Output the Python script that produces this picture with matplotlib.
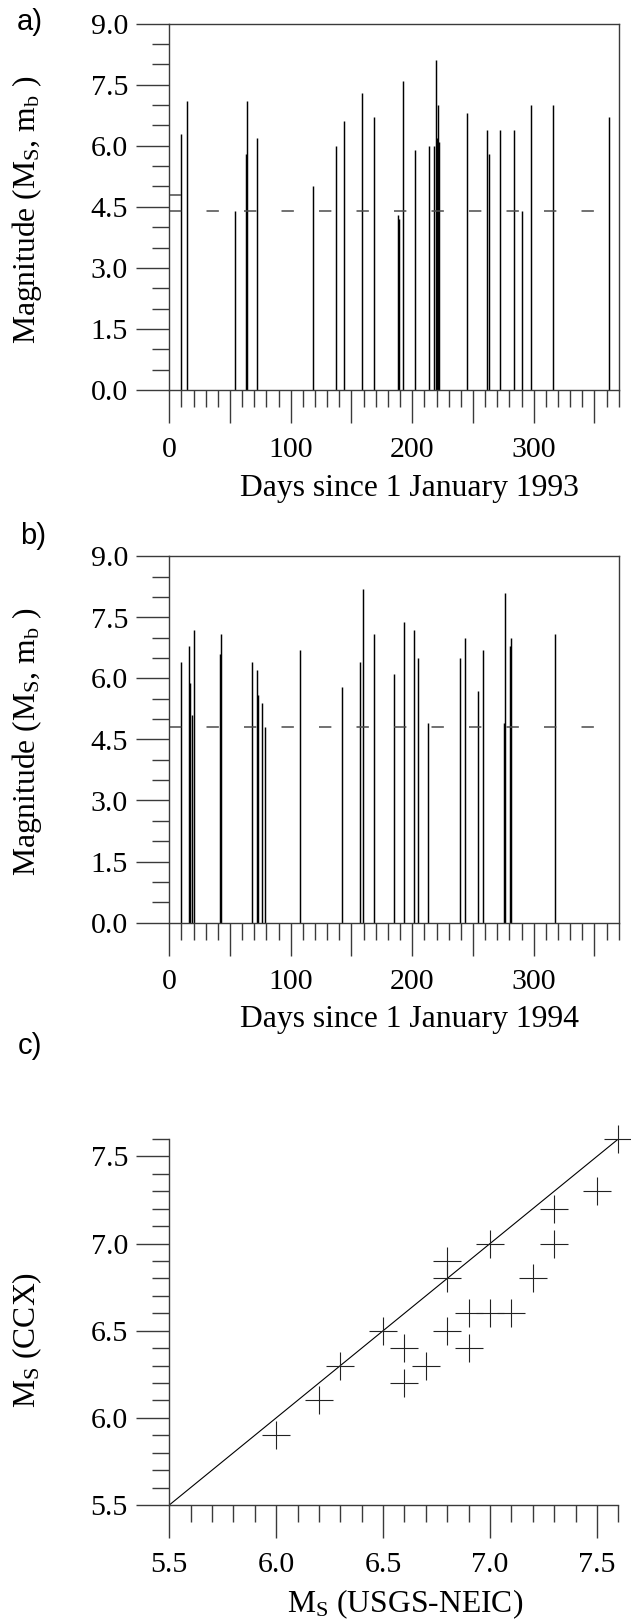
import matplotlib
matplotlib.use("Agg")
import matplotlib.pyplot as plt
from matplotlib.ticker import MultipleLocator, FuncFormatter, FormatStrFormatter

plt.rcParams['font.family'] = ['Liberation Serif', 'DejaVu Serif']
plt.rcParams['mathtext.fontset'] = 'custom'
plt.rcParams['mathtext.rm'] = 'Liberation Serif'
plt.rcParams['mathtext.it'] = 'Liberation Serif:italic'
plt.rcParams['mathtext.bf'] = 'Liberation Serif:bold'
plt.rcParams['lines.scale_dashes'] = False

# ---------------- data ----------------
days_1993 = [9.6, 14.3, 54.1, 63.1, 64.0, 72.5, 118.0, 137.0, 143.8, 158.7,
             168.3, 188.0, 189.0, 192.4, 202.3, 214.1, 218.2, 219.3, 220.1, 221.0,
             222.3, 245.4, 261.3, 263.0, 272.5, 283.5, 290.6, 297.5, 315.6, 362.3]
mag_1993 = [6.3, 7.1, 4.4, 5.8, 7.1, 6.2, 5.0, 6.0, 6.6, 7.3,
            6.7, 4.3, 4.2, 7.6, 5.9, 6.0, 6.0, 8.1, 6.2, 7.0,
            6.1, 6.8, 6.4, 5.8, 6.4, 6.4, 4.4, 7.0, 7.0, 6.7]
threshold_1993 = 4.4
short_level_1993 = 4.8
short_level_end_1993 = 9.6

days_1994 = [9.6, 16.5, 17.3, 18.9, 20.0, 42.0, 42.8, 67.8, 71.9, 73.0,
             76.0, 79.0, 107.6, 141.9, 156.7, 159.2, 168.4, 184.7, 193.0, 201.7,
             204.8, 213.0, 239.6, 243.7, 254.4, 258.3, 275.3, 276.4, 280.3, 281.3,
             317.8]
mag_1994 = [6.4, 6.8, 5.9, 5.1, 7.2, 6.6, 7.1, 6.4, 6.2, 5.6,
            5.4, 4.8, 6.7, 5.8, 6.4, 8.2, 7.1, 6.1, 7.4, 7.2,
            6.5, 4.9, 6.5, 7.0, 5.7, 6.7, 4.9, 8.1, 6.8, 7.0,
            7.1]
threshold_1994 = 4.8

ms_usgs = [6.0, 6.2, 6.3, 6.5, 6.6, 6.6, 6.7, 6.8, 6.8, 6.8,
           6.9, 6.9, 7.0, 7.0, 7.1, 7.2, 7.3, 7.3, 7.5, 7.6]
ms_ccx = [5.9, 6.1, 6.3, 6.5, 6.4, 6.2, 6.3, 6.8, 6.9, 6.5,
          6.6, 6.4, 7.0, 6.6, 6.6, 6.8, 7.2, 7.0, 7.3, 7.6]
one_to_one = [5.5, 7.6]

day_range = (0, 370)
mag_range = (0, 9.0)
ms_range = (5.5, 7.6)

# ---------------- layout ----------------
W, H = 631, 1619
fig = plt.figure(figsize=(W / 100, H / 100), dpi=100)

AX_COL = '#3a3a3a'
MAJ_LEN = 23.8
MIN_LEN = 12.2
TICK_FS = 21.5
LABEL_FS = 22.8


def add_ax(left, top, right, bottom):
    return fig.add_axes([left / W, 1 - bottom / H, (right - left) / W, (bottom - top) / H])


def style_axes(ax, box=True):
    for s in ['left', 'bottom', 'top', 'right']:
        ax.spines[s].set_color(AX_COL)
        ax.spines[s].set_linewidth(1.0)
    if not box:
        ax.spines['top'].set_visible(False)
        ax.spines['right'].set_visible(False)
    ax.tick_params(which='both', direction='out', color=AX_COL, width=1.0,
                   top=False, right=False)
    ax.tick_params(which='major', length=MAJ_LEN, labelsize=TICK_FS)
    ax.tick_params(which='minor', length=MIN_LEN)
    ax.tick_params(axis='y', which='major', pad=6)
    ax.tick_params(axis='x', which='major', pad=10)


def day_formatter(v, p):
    return f'{int(round(v))}' if abs(v % 100) < 1e-6 else ''


def magnitude_panel(ax, days, mags, thr):
    ax.vlines(days, 0, mags, colors='black', linewidth=1.05)
    ax.hlines(thr, day_range[0], day_range[1], colors='#4a4a4a', linewidth=1.1,
              linestyles=[(0, (8.9, 18.1))])
    ax.set_xlim(*day_range)
    ax.set_ylim(*mag_range)
    ax.xaxis.set_major_locator(MultipleLocator(50))
    ax.xaxis.set_minor_locator(MultipleLocator(10))
    ax.xaxis.set_major_formatter(FuncFormatter(day_formatter))
    ax.yaxis.set_major_locator(MultipleLocator(1.5))
    ax.yaxis.set_minor_locator(MultipleLocator(0.5))
    ax.yaxis.set_major_formatter(FormatStrFormatter('%.1f'))
    style_axes(ax, box=True)


ylab_mag = r'Magnitude (M$_{\mathrm{S}}$, m$_{\mathrm{b}}$ )'

# panel a
axa = add_ax(169.3, 23.7, 618.7, 390.0)
magnitude_panel(axa, days_1993, mag_1993, threshold_1993)
axa.hlines(short_level_1993, day_range[0], short_level_end_1993, colors='#4a4a4a', linewidth=1.1)
fig.text(30 / W, 1 - 22 / H, 'a)', family='Liberation Sans', fontsize=21, ha='center', va='center')
fig.text(27 / W, 1 - 210 / H, ylab_mag, rotation=90, fontsize=LABEL_FS, ha='center', va='center')
fig.text(409 / W, 1 - 488 / H, 'Days since 1 January 1993', fontsize=LABEL_FS, ha='center', va='center')

# panel b
axb = add_ax(169.3, 556.5, 618.7, 922.5)
magnitude_panel(axb, days_1994, mag_1994, threshold_1994)
fig.text(33 / W, 1 - 536 / H, 'b)', family='Liberation Sans', fontsize=21, ha='center', va='center')
fig.text(27 / W, 1 - 742 / H, ylab_mag, rotation=90, fontsize=LABEL_FS, ha='center', va='center')
fig.text(409 / W, 1 - 1020 / H, 'Days since 1 January 1994', fontsize=LABEL_FS, ha='center', va='center')

# panel c
axc = add_ax(169.3, 1139.0, 618.3, 1505.0)
axc.plot(one_to_one, one_to_one, color='black', linewidth=0.8)
axc.plot(ms_usgs, ms_ccx, linestyle='none', marker='+', markersize=20.2,
         markeredgewidth=0.8, color='#222222', clip_on=False)
axc.set_xlim(*ms_range)
axc.set_ylim(*ms_range)
for axis in (axc.xaxis, axc.yaxis):
    axis.set_major_locator(MultipleLocator(0.5))
    axis.set_minor_locator(MultipleLocator(0.1))
    axis.set_major_formatter(FormatStrFormatter('%.1f'))
style_axes(axc, box=False)
fig.text(30 / W, 1 - 1046 / H, 'c)', family='Liberation Sans', fontsize=21, ha='center', va='center')
fig.text(27 / W, 1 - 1340 / H, r'M$_{\mathrm{S}}$ (CCX)', rotation=90, fontsize=LABEL_FS,
         ha='center', va='center')
fig.text(405 / W, 1 - 1604 / H, r'M$_{\mathrm{S}}$ (USGS-NEIC)', fontsize=LABEL_FS,
         ha='center', va='center')

fig.savefig('out.png', dpi=100)
